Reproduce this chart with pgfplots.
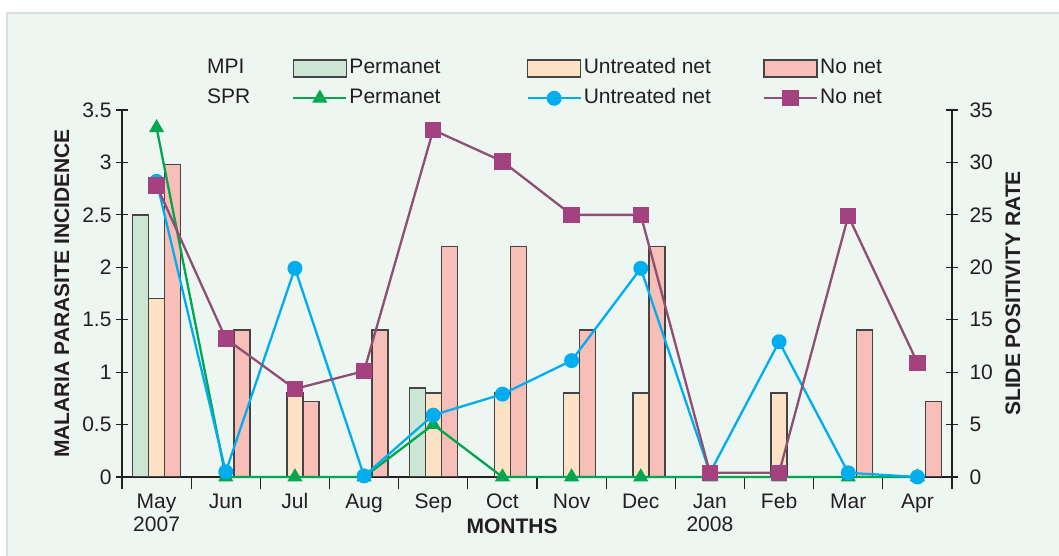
\documentclass[border=0pt]{standalone}
\usepackage{fontspec}
\setmainfont{Liberation Sans}
\usepackage{pgfplots}
\pgfplotsset{compat=1.18}

\definecolor{panel}{HTML}{EEF6F2}
\definecolor{frame}{HTML}{DDDDDD}
\definecolor{txt}{HTML}{231F20}
\definecolor{edge}{HTML}{444444}
\definecolor{fPerm}{HTML}{CDE5D5}
\definecolor{fUnt}{HTML}{FDE2C6}
\definecolor{fNo}{HTML}{F8BEB8}
\definecolor{lPerm}{HTML}{00A650}
\definecolor{lUnt}{HTML}{00AEEF}
\definecolor{lNo}{HTML}{8E4F73}
\definecolor{mNo}{HTML}{A4427F}

\pgfplotsset{
  common/.style={
    at={(122bp,79bp)}, anchor=south west,
    width=830bp, height=367bp, scale only axis,
    xmin=-0.5, xmax=11.5,
    tick align=center, major tick length=12bp, minor tick length=12bp,
    axis line style={line width=1.2bp, draw=txt},
    every tick/.style={line width=1.2bp, draw=txt},
    /pgf/number format/assume math mode=true,
    ticklabel style={text=txt},
  },
  lineleg/.style={legend image code/.code={%
    \draw[mark repeat=2, mark phase=2, ##1] plot coordinates {(0bp,0bp) (26.5bp,0bp) (53bp,0bp)};}},
  barleg/.style={legend image code/.code={%
    \draw[fill=#1, draw=edge, line width=1.5bp] (0bp,-8.5bp) rectangle (53bp,8.5bp);}},
}

\begin{document}
\begin{tikzpicture}[font=\fontsize{21bp}{23bp}\selectfont]
\useasboundingbox (0,0) rectangle (1059bp,556bp);
\fill[white] (0,0) rectangle (1059bp,556bp);
\fill[panel] (7bp,0) rectangle (1059bp,543bp);
\draw[frame, line width=2bp] (7bp,0) -- (7bp,543bp) -- (1059bp,543bp);

% MPI bars, left axis
\begin{axis}[common,
  ymin=0, ymax=3.5,
  axis x line*=bottom, axis y line*=left,
  ybar=0pt, bar width=16bp,
  xtick={0,...,11},
  xticklabels={{\strut May\\\strut 2007},\strut Jun,\strut Jul,\strut Aug,\strut Sep,\strut Oct,\strut Nov,\strut Dec,{\strut Jan\\\strut 2008},\strut Feb,\strut Mar,\strut Apr},
  xticklabel style={align=center, anchor=north, inner ysep=0pt, yshift=-3bp},
  major x tick style={draw=none},
  minor xtick={-0.5,0.5,...,11.5},
  ytick={0,0.5,...,3.5},
  yticklabel style={xshift=-1bp},
  xlabel={\bfseries MONTHS},
  every axis x label/.style={at={(axis description cs:0.47,-0.1335)}, anchor=center, text=txt},
  ylabel={\bfseries MALARIA PARASITE INCIDENCE},
  every axis y label/.style={at={(axis description cs:-0.0723,0.5)}, rotate=90, anchor=center, text=txt},
]
\addplot[fill=fPerm, draw=edge, line width=1.5bp] coordinates {(0,2.5) (4,0.85)};
\addplot[fill=fUnt, draw=edge, line width=1.5bp] coordinates {(0,1.7) (2,0.8) (4,0.8) (5,0.8) (6,0.8) (7,0.8) (9,0.8)};
\addplot[fill=fNo, draw=edge, line width=1.5bp] coordinates {(0,2.98) (1,1.4) (2,0.72) (3,1.4) (4,2.2) (5,2.2) (6,1.4) (7,2.2) (10,1.4) (11,0.72)};
\end{axis}

% SPR lines, right axis
\begin{axis}[common,
  ymin=0, ymax=35,
  axis x line=none, axis y line*=right,
  ytick={0,5,...,35},
  yticklabel style={xshift=8bp},
  ylabel={\bfseries SLIDE POSITIVITY RATE},
  every axis y label/.style={at={(axis description cs:1.0735,0.5)}, rotate=90, anchor=center, text=txt},
  clip=false,
  legend columns=4,
  legend style={at={(axis description cs:0.1024,1.140)}, anchor=north west,
    draw=none, fill=none, inner sep=0pt, column sep=0pt, row sep=11bp,
    nodes={inner sep=0pt, text height=15bp, text depth=4bp, text=txt}},
]
\addlegendimage{empty legend}
\addlegendimage{barleg=fPerm}
\addlegendimage{barleg=fUnt}
\addlegendimage{barleg=fNo}
\addlegendimage{empty legend}
\addplot[lPerm, line width=2.3bp, mark=triangle*, mark size=6.5bp, mark options={solid, fill=lPerm}, lineleg]
  coordinates {(0,33.3) (1,0) (2,0) (3,0) (4,5) (5,0) (6,0) (7,0) (8,0) (9,0) (10,0) (11,0)};
\addplot[lUnt, line width=2.3bp, mark=*, mark size=6.3bp, mark options={solid, fill=lUnt}, lineleg]
  coordinates {(0,28.2) (1,0.5) (2,19.9) (3,0.1) (4,5.9) (5,7.9) (6,11.1) (7,19.9) (8,0.4) (9,12.9) (10,0.4) (11,0)};
\addplot[lNo, line width=2.3bp, mark=square*, mark size=7bp, mark options={solid, fill=mNo, draw=mNo}, lineleg]
  coordinates {(0,27.8) (1,13.2) (2,8.4) (3,10.1) (4,33.1) (5,30.1) (6,25) (7,25) (8,0.4) (9,0.4) (10,24.9) (11,10.9)};
\legend{\makebox[85bp][l]{MPI}, \makebox[179bp][l]{\hspace{2bp}Permanet}, \makebox[181bp][l]{\hspace{2bp}Untreated net}, \hspace{2bp}No net,
        \makebox[85bp][l]{SPR}, \makebox[179bp][l]{\hspace{2bp}Permanet}, \makebox[181bp][l]{\hspace{2bp}Untreated net}, \hspace{2bp}No net}
\end{axis}
\end{tikzpicture}
\end{document}
